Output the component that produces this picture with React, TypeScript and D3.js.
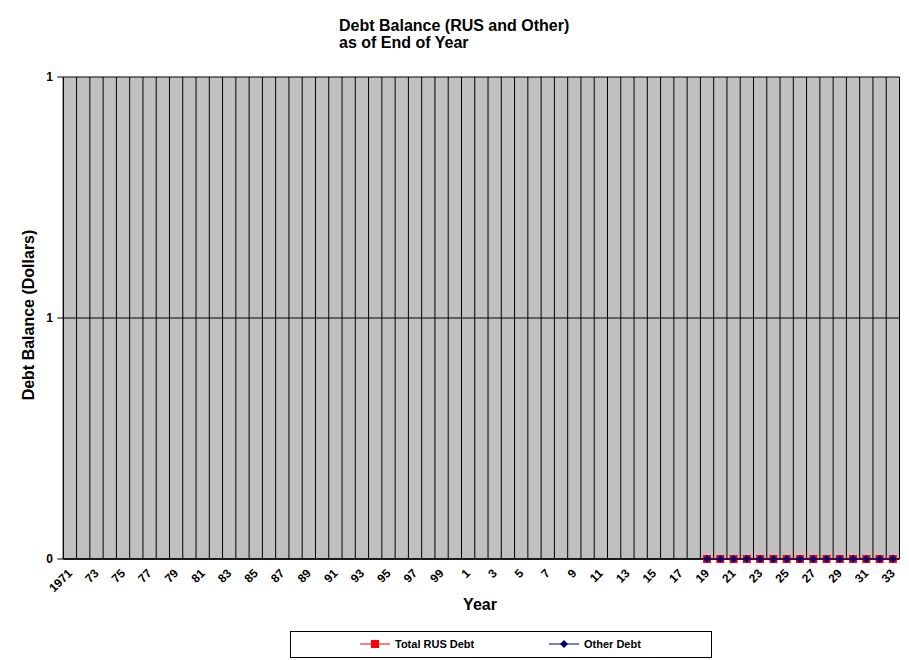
import React from "react";
import * as d3 from "d3";

const firstYear = 1971;
const lastYear = 2033;
const years: number[] = d3.range(firstYear, lastYear + 1);
const categoryLabels: string[] = years.map((y, i) => (i === 0 ? String(y) : String(y % 100)));

const seriesYears: number[] = [2019, 2020, 2021, 2022, 2023, 2024, 2025, 2026, 2027, 2028, 2029, 2030, 2031, 2032, 2033];
const totalRusDebt: number[] = [0, 0, 0, 0, 0, 0, 0, 0, 0, 0, 0, 0, 0, 0, 0];
const otherDebt: number[] = [0, 0, 0, 0, 0, 0, 0, 0, 0, 0, 0, 0, 0, 0, 0];
const yTicks: number[] = [0, 0.5, 1];

const W = 909;
const H = 660;
const left = 63.3;
const right = 899.5;
const top = 77;
const bottom = 559;
const FONT = "Arial, 'Liberation Sans', sans-serif";

export default function App() {
  const x = d3.scaleBand<number>().domain(years).range([left, right]).padding(0);
  const y = d3.scaleLinear().domain([0, 1]).range([bottom, top]);
  const cx = (yr: number) => (x(yr) as number) + x.bandwidth() / 2;

  const line = d3
    .line<number>()
    .x((_, i) => cx(seriesYears[i]))
    .y((d) => y(d));

  const boundaries = years.map((yr) => x(yr) as number).concat([right]);

  return (
    <svg width={W} height={H} style={{ position: "absolute", left: 0, top: 0, background: "#fff" }} fontFamily={FONT}>
      <rect x={0} y={0} width={W} height={H} fill="#fff" />
      {/* Title */}
      <text x={339} y={31} fontSize={16} fontWeight="bold" fill="#000">
        Debt Balance (RUS and Other)
      </text>
      <text x={339} y={48} fontSize={16} fontWeight="bold" fill="#000">
        as of End of Year
      </text>

      {/* Plot area */}
      <rect x={left} y={top} width={right - left} height={bottom - top} fill="#C0C0C0" />
      {boundaries.map((bx, i) => (
        <line key={"v" + i} x1={bx} x2={bx} y1={top} y2={bottom} stroke="#000" strokeWidth={1} />
      ))}
      {yTicks.map((t, i) => (
        <line key={"h" + i} x1={left} x2={right} y1={y(t)} y2={y(t)} stroke="#000" strokeWidth={1} />
      ))}

      {/* Y axis */}
      <line x1={left} x2={left} y1={top} y2={bottom} stroke="#000" strokeWidth={1} />
      {yTicks.map((t, i) => (
        <g key={"yt" + i}>
          <line x1={left - 6} x2={left} y1={y(t)} y2={y(t)} stroke="#000" />
          <text x={53} y={y(t)} dy="0.35em" textAnchor="end" fontSize={12} fontWeight="bold" fill="#000">
            {String(Math.round(t))}
          </text>
        </g>
      ))}
      <text
        transform={`translate(34,315) rotate(-90)`}
        textAnchor="middle"
        fontSize={16}
        fontWeight="bold"
        fill="#000"
      >
        Debt Balance (Dollars)
      </text>

      {/* X axis */}
      <line x1={left} x2={right} y1={bottom} y2={bottom} stroke="#000" strokeWidth={1.5} />
      {years.map((yr, i) =>
        i % 2 === 0 ? (
          <text
            key={"xl" + i}
            transform={`translate(${cx(yr)},${571}) rotate(-45)`}
            textAnchor="end"
            dy="0.35em"
            fontSize={12}
            fontWeight="bold"
            fill="#000"
          >
            {categoryLabels[i]}
          </text>
        ) : null
      )}
      <text x={480} y={610} textAnchor="middle" fontSize={16} fontWeight="bold" fill="#000">
        Year
      </text>

      {/* Series */}
      <path d={line(totalRusDebt) || ""} fill="none" stroke="#FF0000" strokeWidth={1} />
      {totalRusDebt.map((v, i) => (
        <rect key={"r" + i} x={cx(seriesYears[i]) - 4} y={y(v) - 4} width={8} height={8} fill="#FF0000" />
      ))}
      <path d={line(otherDebt) || ""} fill="none" stroke="#000080" strokeWidth={1} />
      {otherDebt.map((v, i) => {
        const px = cx(seriesYears[i]);
        const py = y(v);
        return (
          <path
            key={"o" + i}
            d={`M${px},${py - 4}L${px + 4},${py}L${px},${py + 4}L${px - 4},${py}Z`}
            fill="#000080"
          />
        );
      })}

      {/* Legend */}
      <rect x={290.5} y={631.5} width={421} height={26} fill="#fff" stroke="#000" strokeWidth={1} />
      <line x1={360} x2={390} y1={644} y2={644} stroke="#FF0000" />
      <rect x={371} y={640} width={8} height={8} fill="#FF0000" />
      <text x={395} y={644} dy="0.35em" fontSize={11} fontWeight="bold" fill="#000">
        Total RUS Debt
      </text>
      <line x1={549} x2={579} y1={644} y2={644} stroke="#000080" />
      <path d={`M564,640L568,644L564,648L560,644Z`} fill="#000080" />
      <text x={584} y={644} dy="0.35em" fontSize={11} fontWeight="bold" fill="#000">
        Other Debt
      </text>
    </svg>
  );
}
